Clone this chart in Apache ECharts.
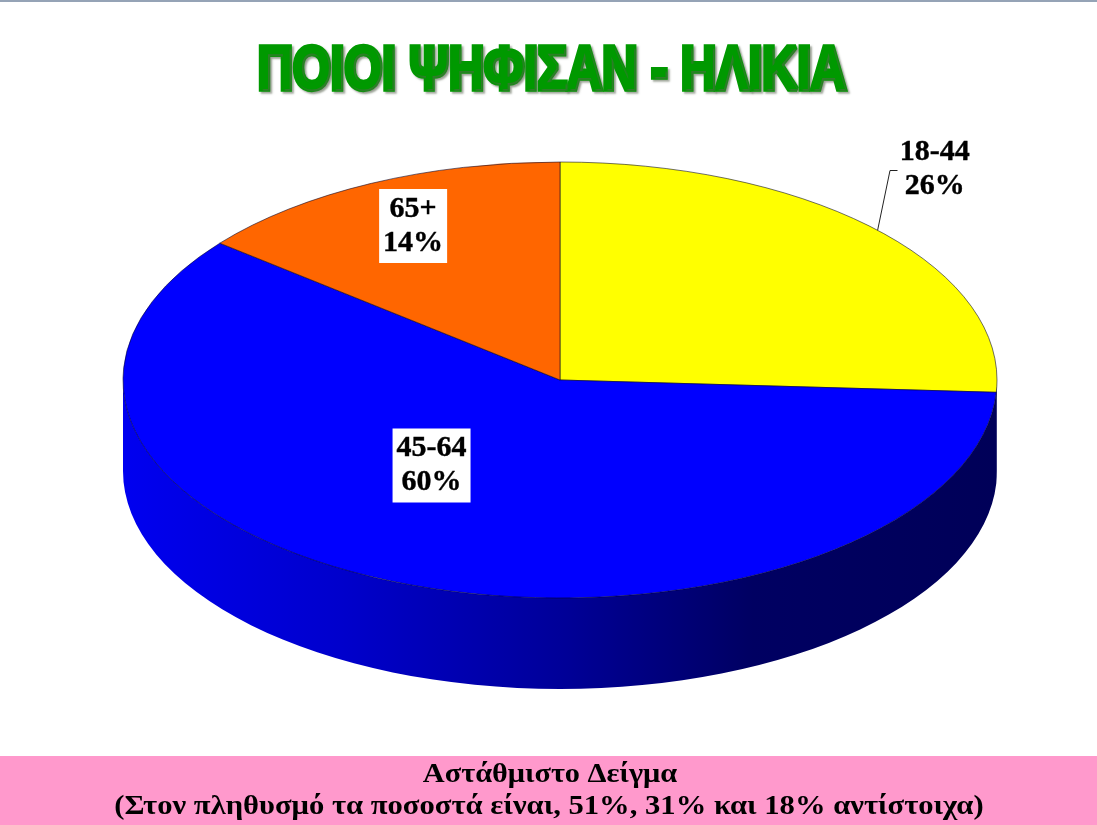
<!DOCTYPE html>
<html>
<head>
<meta charset="utf-8">
<style>html,body{margin:0;padding:0;background:#fff}#c{width:1097px;height:825px}</style>
<script src="https://cdn.jsdelivr.net/npm/echarts@6/dist/echarts.min.js"></script>
</head>
<body>
<div id="c"></div>
<script>
const titleText = 'ΠΟΙΟΙ ΨΗΦΙΣΑΝ - ΗΛΙΚΙΑ';
const footerLines = ['Αστάθμιστο Δείγμα', '(Στον πληθυσμό τα ποσοστά είναι, 51%, 31% και 18% αντίστοιχα)'];
const categories = ['18-44', '45-64', '65+'];
const values = [25.9, 59.9, 14.2];
const sliceColors = ['#FFFF00', '#0000FF', '#FF6600'];

// layout of the tilted pie
const CX = 560, CY = 380, RX = 437, RY = 218, DEPTH = 91;
// label centre, as a fraction of the rim point at the slice's middle angle
const labelFractions = [[1.18, 1.409], [0.818, 0.42], [0.779, 0.783]];
const leaderElbows = [[890, 170.5], null, null];
const labelBackgrounds = ['transparent', '#fff', '#fff'];

const total = values.reduce((a, b) => a + b, 0);
const rim = (deg, dy) => {
  const r = deg * Math.PI / 180;
  return [CX + RX * Math.sin(r), CY - RY * Math.cos(r) + (dy || 0)];
};
const sliceAngles = (i, val) => {
  const before = values.slice(0, i).reduce((a, b) => a + b, 0);
  return [before / total * 360, (before + val) / total * 360];
};
const arcTo = (deg, large, sweep, dy) => {
  const p = rim(deg, dy);
  return `A ${RX} ${RY} 0 ${large} ${sweep} ${p[0]} ${p[1]}`;
};

const wallGradient = {
  type: 'linear', global: true, x: CX - RX, y: 0, x2: CX + RX, y2: 0,
  colorStops: [
    { offset: 0, color: '#0000F0' },
    { offset: 0.25, color: '#0000CC' },
    { offset: 0.5, color: '#000099' },
    { offset: 0.72, color: '#000062' },
    { offset: 1, color: '#000058' }
  ]
};

function renderWall(params, api) {
  const [a0, a1] = sliceAngles(params.dataIndex, api.value(0));
  const s = Math.max(a0, 90), e = Math.min(a1, 270);
  if (e <= s) return { type: 'group', children: [] };
  const p = rim(s), q = rim(e, DEPTH);
  const large = e - s > 180 ? 1 : 0;
  const d = `M ${p[0]} ${p[1]} ${arcTo(e, large, 1)} L ${q[0]} ${q[1]} ${arcTo(s, large, 0, DEPTH)} Z`;
  return { type: 'path', shape: { pathData: d }, style: { fill: wallGradient } };
}

function renderTop(params, api) {
  const i = params.dataIndex;
  const [a0, a1] = sliceAngles(i, api.value(0));
  const p = rim(a0);
  const large = a1 - a0 > 180 ? 1 : 0;
  const d = `M ${CX} ${CY} L ${p[0]} ${p[1]} ${arcTo(a1, large, 1)} Z`;
  return {
    type: 'path',
    shape: { pathData: d },
    style: { fill: sliceColors[i], stroke: 'rgba(0,0,40,0.7)', lineWidth: 0.8 }
  };
}

function renderLabel(params, api) {
  const i = params.dataIndex;
  const val = api.value(0);
  const [a0, a1] = sliceAngles(i, val);
  const mid = (a0 + a1) / 2;
  const anchor = rim(mid);
  const f = labelFractions[i];
  const x = CX + (anchor[0] - CX) * f[0];
  const y = CY + (anchor[1] - CY) * f[1];
  const children = [];
  if (leaderElbows[i]) {
    const el = leaderElbows[i];
    children.push({
      type: 'polyline',
      shape: { points: [anchor, el, [el[0] + 7.5, el[1]]] },
      style: { stroke: '#222', lineWidth: 1, fill: null }
    });
  }
  children.push({
    type: 'text',
    x: x, y: y,
    style: {
      text: categories[i] + '\n' + Math.round(val) + '%',
      align: 'center', verticalAlign: 'middle',
      fontFamily: '"Liberation Serif"', fontWeight: 'bold', fontSize: 30, lineHeight: 34,
      fill: '#000', stroke: '#000', lineWidth: 0.4,
      backgroundColor: labelBackgrounds[i],
      padding: [5, 4, 1, 4]
    }
  });
  return { type: 'group', children };
}

const seriesData = values.map((v, i) => ({ name: categories[i], value: [v] }));

const chart = echarts.init(document.getElementById('c'), null, { renderer: 'canvas' });
chart.setOption({
  animation: false,
  backgroundColor: '#fff',
  graphic: [
    { type: 'rect', shape: { x: 0, y: 0, width: 1097, height: 2 }, style: { fill: '#95A3B6' }, silent: true },
    { type: 'rect', shape: { x: 0, y: 756, width: 1097, height: 69 }, style: { fill: '#FF99CC' }, silent: true },
    {
      type: 'text', x: 552, y: 72, scaleX: 0.80, silent: true,
      style: {
        text: titleText, align: 'center', verticalAlign: 'middle',
        fontFamily: '"Liberation Sans"', fontWeight: 'bold', fontSize: 61,
        fill: '#009900', stroke: '#009900', lineWidth: 5.5, lineJoin: 'miter',
        textShadowColor: 'rgba(90,100,80,0.55)', textShadowBlur: 2, textShadowOffsetX: 2, textShadowOffsetY: 2
      }
    },
    {
      type: 'text', x: 550, y: 775, scaleX: 1.122, silent: true,
      style: {
        text: footerLines[0], align: 'center', verticalAlign: 'middle',
        fontFamily: '"Liberation Serif"', fontWeight: 'bold', fontSize: 27, fill: '#000'
      }
    },
    {
      type: 'text', x: 549, y: 807, scaleX: 1.134, silent: true,
      style: {
        text: footerLines[1], align: 'center', verticalAlign: 'middle',
        fontFamily: '"Liberation Serif"', fontWeight: 'bold', fontSize: 27, fill: '#000'
      }
    }
  ],
  series: [
    { type: 'custom', name: 'wall', coordinateSystem: 'none', silent: true, z: 1, renderItem: renderWall, data: seriesData },
    { type: 'custom', name: 'top', coordinateSystem: 'none', silent: true, z: 2, renderItem: renderTop, data: seriesData },
    { type: 'custom', name: 'labels', coordinateSystem: 'none', silent: true, z: 3, renderItem: renderLabel, data: seriesData }
  ]
});
</script>
</body>
</html>
